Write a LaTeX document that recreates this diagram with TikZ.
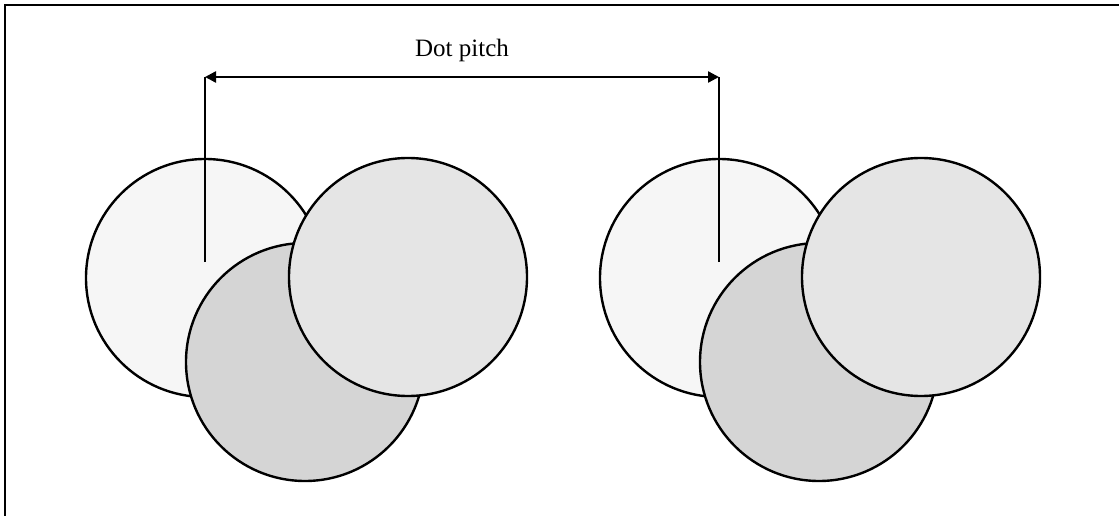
\documentclass[tikz,border=0pt]{standalone}
\usepackage{fontspec}
\setmainfont{Liberation Serif}
\usetikzlibrary{arrows.meta}
\definecolor{dotA}{RGB}{246,246,246}
\definecolor{dotB}{RGB}{213,213,213}
\definecolor{dotC}{RGB}{229,229,229}
\begin{document}
\begin{tikzpicture}[x=1pt,y=-1pt,
  dotcircle/.style={circle,draw=black,line width=2.4pt,minimum size=238pt,inner sep=0pt},
  pitchline/.style={line width=2.4pt},
  pitcharrow/.style={line width=2.4pt,{Triangle[length=11pt,width=11pt]}-{Triangle[length=11pt,width=11pt]}},
  frameline/.style={line width=2.8pt}]
\useasboundingbox (0,0) rectangle (1119,516);
\draw[frameline] (5,516) -- (5,5) -- (1119,5);
% left triad
\node[dotcircle,fill=dotA] (a1) at (205,278) {};
\node[dotcircle,fill=dotB] (b1) at (305,362) {};
\node[dotcircle,fill=dotC] (c1) at (408,277) {};
% right triad
\node[dotcircle,fill=dotA] (a2) at (719,278) {};
\node[dotcircle,fill=dotB] (b2) at (819,362) {};
\node[dotcircle,fill=dotC] (c2) at (921,277) {};
% pitch markers
\coordinate (p1) at (205,262);
\coordinate (p2) at (719,262);
\coordinate (t1) at (205,77);
\coordinate (t2) at (719,77);
\draw[pitchline] (p1) -- (t1);
\draw[pitchline] (p2) -- (t2);
\draw[pitcharrow] (t1) -- (t2);
\node[font=\fontsize{25}{30}\selectfont] (lbl) at (462,50) {Dot pitch};
\end{tikzpicture}
\end{document}
